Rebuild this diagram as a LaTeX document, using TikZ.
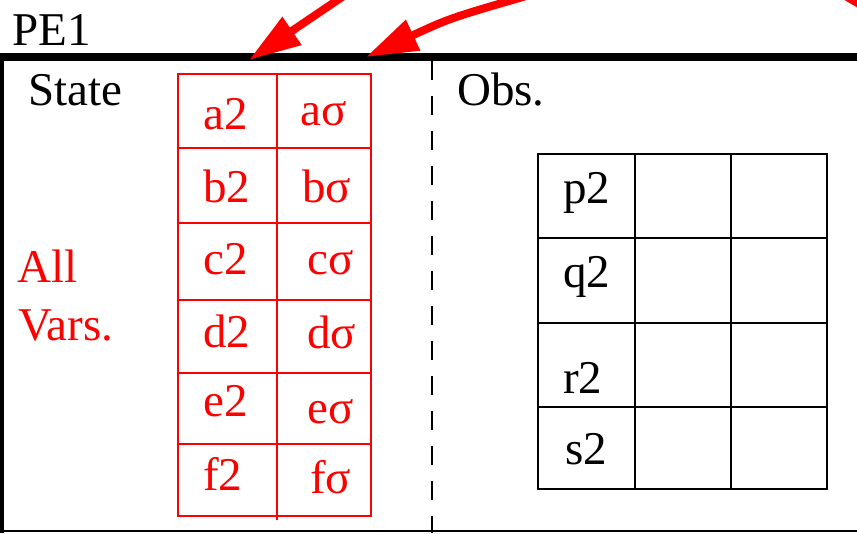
\documentclass[tikz,border=0pt]{standalone}
\usepackage{fontspec}
\setmainfont{Liberation Serif}
\usetikzlibrary{arrows.meta}

\begin{document}
\begin{tikzpicture}[x=1pt, y=-1pt,
	lbl/.style={anchor=base west, inner sep=0pt, font=\fontsize{47}{58}\selectfont},
	redlbl/.style={lbl, text=red},
	redgrid/.style={draw=red, line width=2.8pt},
	blkgrid/.style={draw=black, line width=2.4pt},
	fatarrow/.style={draw=red, line width=8pt, -{Triangle[length=52pt, width=32pt]}}]
	\useasboundingbox (0,0) rectangle (857,533);
	\clip (0,0) rectangle (857,533);
	% Frame of the processing element:
	\draw[line width=8pt] (0,57) -- (857,57);
	\draw[line width=4pt] (2,57) -- (2,533);
	\draw[line width=2.5pt] (0,531) -- (857,531);
	\draw[line width=2.5pt, dash pattern=on 19pt off 16pt] (432,61) -- (432,533);
	\node[lbl] (pe) at (12,45) {PE1};
	\node[lbl] (state) at (28,105) {State};
	\node[lbl] (obs) at (457,105) {Obs.};
	\node[redlbl] (all) at (17,282) {All};
	\node[redlbl] (vars) at (18,340) {Vars.};
	% State table (red):
	\draw[redgrid] (178,74) rectangle (371,516);
	\draw[redgrid] (277,74) -- (277,520);
	\foreach \y in {148,223,300,373,444}
		\draw[redgrid] (178,\y) -- (371,\y);
	\node[redlbl] (a2) at (203,129) {a2};
	\node[redlbl] (as) at (300,125) {aσ};
	\node[redlbl] (b2) at (203,202) {b2};
	\node[redlbl] (bs) at (302,202) {bσ};
	\node[redlbl] (c2) at (203,274) {c2};
	\node[redlbl] (cs) at (307,274) {cσ};
	\node[redlbl] (d2) at (203,347) {d2};
	\node[redlbl] (ds) at (307,348) {dσ};
	\node[redlbl] (e2) at (203,416) {e2};
	\node[redlbl] (es) at (307,423) {eσ};
	\node[redlbl] (f2) at (203,490) {f2};
	\node[redlbl] (fs) at (310,493) {fσ};
	% Observation table (black):
	\draw[blkgrid] (538,154) rectangle (827,489);
	\foreach \x in {635,731}
		\draw[blkgrid] (\x,154) -- (\x,489);
	\foreach \y in {238,323,407}
		\draw[blkgrid] (538,\y) -- (827,\y);
	\node[lbl] (p2) at (563,203) {p2};
	\node[lbl] (q2) at (563,287) {q2};
	\node[lbl] (r2) at (563,393) {r2};
	\node[lbl] (s2) at (565,464) {s2};
	% Incoming arrows:
	\coordinate (tipA) at (249,60);
	\coordinate (srcA) at (345,-5);
	\coordinate (tipB) at (366,57);
	\coordinate (srcB) at (540,-8);
	\coordinate (srcC) at (832,-12);
	\coordinate (endC) at (866,8);
	\draw[fatarrow] (srcA) -- (tipA);
	\draw[fatarrow] (srcB) .. controls (450,18) .. (tipB);
	\draw[draw=red, line width=8pt] (srcC) -- (endC);
\end{tikzpicture}
\end{document}
